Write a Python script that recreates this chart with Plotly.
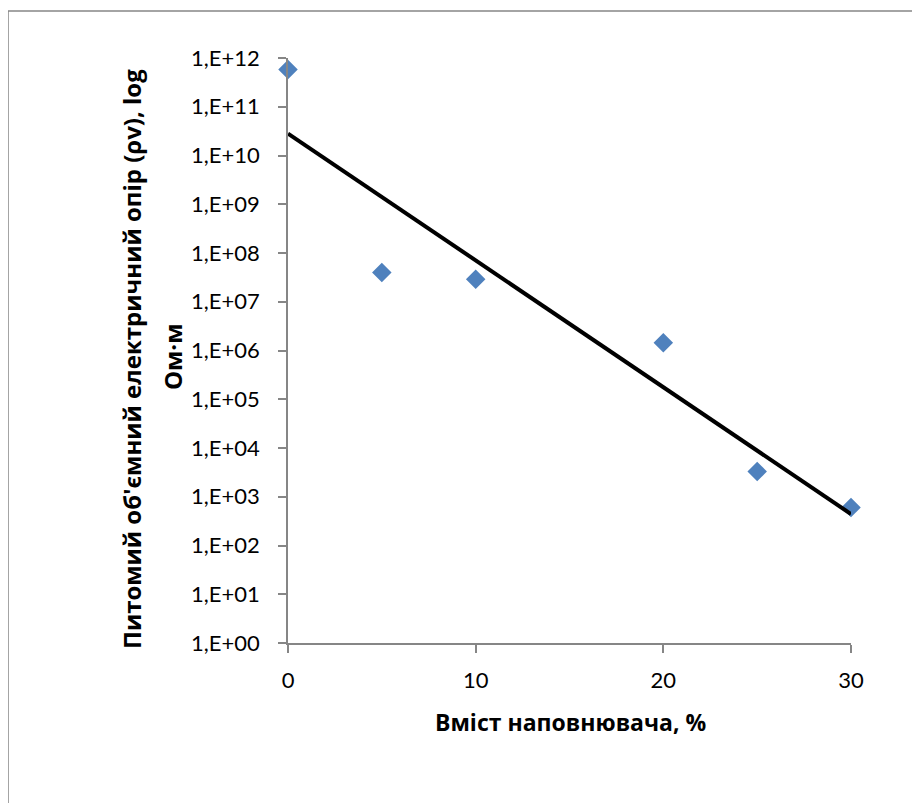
import numpy as np
import plotly.graph_objects as go

# Data
filler_pct = [0, 5, 10, 20, 25, 30]
resistivity = [5.8e11, 4.0e7, 2.9e7, 1.45e6, 3.3e3, 6.0e2]
y_tick_vals = [10.0 ** k for k in range(0, 13)]
y_tick_text = ["1,E+%02d" % k for k in range(0, 13)]
x_tick_vals = [0, 10, 20, 30]

x_title = "Вміст наповнювача, %"
y_title_line1 = "Питомий об'ємний електричний опір (ρv), log"
y_title_line2 = "Ом·м"

# Exponential trend line (least squares on log10)
slope, intercept = np.polyfit(filler_pct, np.log10(resistivity), 1)
trend_x = [min(filler_pct), max(filler_pct)]
trend_y = [10 ** (intercept + slope * v) for v in trend_x]

TICK_FONT = "Lato"
TITLE_FONT = "Open Sans"
OFF = 8  # page body margin
W, H = 912, 795
L, R, T, B = 280, 69, 50, 160
pw, ph = W - L - R, H - T - B

def px(xpage):
    return (xpage - OFF - L) / pw

def py(ypage):
    return (H - B - (ypage - OFF)) / ph

fig = go.Figure()
fig.add_trace(go.Scatter(
    x=filler_pct, y=resistivity, mode="markers",
    marker=dict(symbol="diamond", size=15, color="#4F81BD", line=dict(width=0)),
    showlegend=False, cliponaxis=False,
))
fig.add_trace(go.Scatter(
    x=trend_x, y=trend_y, mode="lines",
    line=dict(color="black", width=4),
    showlegend=False, cliponaxis=False,
))

fig.update_layout(
    width=W, height=H,
    margin=dict(l=L, r=R, t=T, b=B),
    paper_bgcolor="white", plot_bgcolor="white",
    font=dict(family=TICK_FONT, size=22, color="black"),
    xaxis=dict(
        range=[0, 30], tickvals=x_tick_vals, showgrid=False, zeroline=False,
        showline=True, linecolor="#868686", linewidth=1.5,
        ticks="outside", ticklen=8, tickcolor="#868686", tickwidth=1.5,
        ticklabelstandoff=9, tickfont=dict(family=TICK_FONT, size=22),
    ),
    yaxis=dict(
        type="log", range=[0, 12], tickvals=y_tick_vals, ticktext=y_tick_text,
        showgrid=False, zeroline=False,
        showline=True, linecolor="#868686", linewidth=1.5,
        ticks="outside", ticklen=8, tickcolor="#868686", tickwidth=1.5,
        ticklabelstandoff=14, tickfont=dict(family=TICK_FONT, size=22),
    ),
    annotations=[
        dict(text="<b>" + x_title + "</b>", xref="paper", yref="paper",
             x=px(570), y=py(722), xanchor="center", yanchor="middle",
             showarrow=False, font=dict(family=TITLE_FONT, size=23)),
        dict(text="<b>" + y_title_line1 + "</b>", xref="paper", yref="paper",
             x=px(132), y=py(359), xanchor="center", yanchor="middle",
             textangle=-90, showarrow=False, font=dict(family=TITLE_FONT, size=24)),
        dict(text="<b>" + y_title_line2 + "</b>", xref="paper", yref="paper",
             x=px(172), y=py(357), xanchor="center", yanchor="middle",
             textangle=-90, showarrow=False, font=dict(family=TITLE_FONT, size=24)),
    ],
    shapes=[
        dict(type="rect", xref="paper", yref="paper",
             x0=px(8), x1=px(940), y0=py(830), y1=py(11),
             line=dict(color="#868686", width=1.5), fillcolor="rgba(0,0,0,0)",
             layer="below"),
    ],
)

fig.write_html("out.html")
